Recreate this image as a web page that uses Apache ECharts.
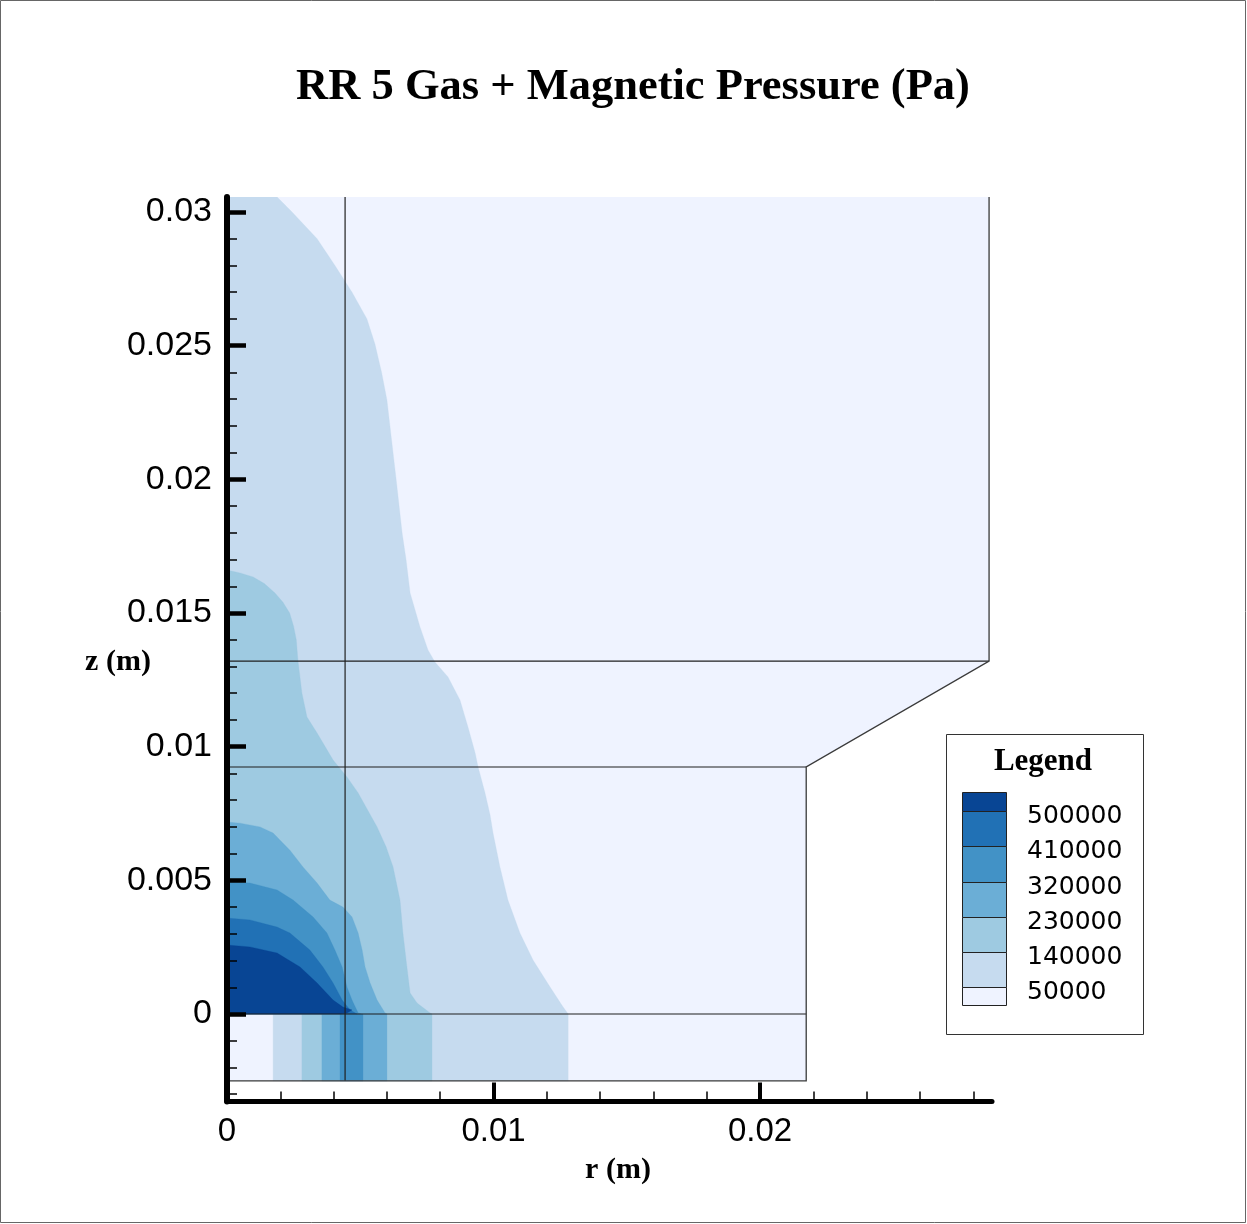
<!DOCTYPE html>
<html><head><meta charset="utf-8">
<script src="https://cdn.jsdelivr.net/npm/echarts@6/dist/echarts.min.js"></script>
<style>html,body{margin:0;padding:0;background:#fff}#c{width:1247px;height:1224px}</style>
</head><body><div id="c"></div>
<script>
// ---------- data ----------
const contourLevels = [50000, 140000, 230000, 320000, 410000, 500000];
const legendLabels = ['500000', '410000', '320000', '230000', '140000', '50000'];
const yMajorTicks = [0, 0.005, 0.01, 0.015, 0.02, 0.025, 0.03];
const yMinorTicks = [-0.003, -0.002, -0.001, 0.001, 0.002, 0.003, 0.004, 0.006, 0.007, 0.008, 0.009,
  0.011, 0.012, 0.013, 0.014, 0.016, 0.017, 0.018, 0.019, 0.021, 0.022, 0.023, 0.024,
  0.026, 0.027, 0.028, 0.029];
const xMajorTicks = [0, 0.01, 0.02];
const xMinorTicks = [0.002, 0.004, 0.006, 0.008, 0.012, 0.014, 0.016, 0.018, 0.022, 0.024, 0.026, 0.028];

// domain outline (r, z)
const domain = [[0, -0.0025], [0.02173, -0.0025], [0.02173, 0.00924], [0.02859, 0.0132], [0.02859, 0.0310], [0, 0.0310]];
const domainEdge = [[0, -0.0025], [0.02173, -0.0025], [0.02173, 0.00924], [0.02859, 0.0132], [0.02859, 0.0310]];
// mesh block lines
const blockLines = [
  [[0.00443, -0.0025], [0.00443, 0.0310]],
  [[0, 0.0132], [0.02859, 0.0132]],
  [[0, 0.00924], [0.02173, 0.00924]],
  [[0, 0], [0.02173, 0]]
];

// contour boundaries above z = 0 (r, z), from the axis down to z = 0
const c50000 = [[0, 0.0310], [0.00170, 0.0310], [0.00188, 0.03056], [0.00244, 0.0300], [0.00338, 0.0290], [0.00405, 0.0280],
  [0.00469, 0.0270], [0.00525, 0.0260], [0.00555, 0.02506], [0.0058, 0.0240], [0.0060, 0.02297], [0.00623, 0.02099],
  [0.00634, 0.02005], [0.00657, 0.01799], [0.00672, 0.01698], [0.00687, 0.01575], [0.00724, 0.01448],
  [0.00754, 0.01362], [0.0078, 0.01317], [0.00829, 0.01261], [0.00874, 0.01175], [0.00904, 0.01074],
  [0.00931, 0.00976], [0.00942, 0.00924], [0.00968, 0.00827], [0.00987, 0.00744], [0.00998, 0.00677],
  [0.01024, 0.0055], [0.01054, 0.00426], [0.01099, 0.00303], [0.01148, 0.00202], [0.01212, 0.00101],
  [0.01261, 0.00026], [0.0128, 0]];
const c140000 = [[0, 0.01661], [0.00049, 0.0165], [0.00098, 0.01635], [0.0014, 0.0161], [0.0018, 0.01575],
  [0.0021, 0.0154], [0.00235, 0.0150], [0.0025, 0.0145], [0.0026, 0.0140], [0.00266, 0.01324], [0.00281, 0.01201],
  [0.003, 0.01111], [0.00338, 0.01051], [0.00398, 0.0095], [0.0045, 0.00887], [0.00492, 0.00827],
  [0.00563, 0.007], [0.00597, 0.00625], [0.00623, 0.0055], [0.00649, 0.00426], [0.0066, 0.00303],
  [0.00675, 0.00176], [0.00687, 0.00079], [0.00713, 0.00041], [0.00762, 0.00004], [0.00769, 0]];
const c230000 = [[0, 0.00718], [0.00049, 0.00714], [0.00124, 0.007], [0.00173, 0.00677], [0.00236, 0.00613],
  [0.00285, 0.0055], [0.00338, 0.0049], [0.00386, 0.00426], [0.00435, 0.004], [0.00469, 0.00363],
  [0.00492, 0.00303], [0.00507, 0.00239], [0.00518, 0.00176], [0.00537, 0.00116], [0.00563, 0.00052],
  [0.00593, 0.00004], [0.006, 0]];
const c320000 = [[0, 0.00494], [0.00086, 0.0049], [0.00188, 0.00464], [0.00248, 0.00426], [0.00323, 0.00363],
  [0.00375, 0.00303], [0.00405, 0.00239], [0.00432, 0.00176], [0.0045, 0.00101], [0.00469, 0.00052],
  [0.00492, 0.00004], [0.00503, 0]];
const c410000 = [[0, 0.00359], [0.00086, 0.00352], [0.00188, 0.00325], [0.00236, 0.00303], [0.00311, 0.00239],
  [0.0036, 0.00176], [0.00398, 0.00116], [0.00432, 0.00052], [0.00462, 0.00015], [0.00488, 0]];
const c500000 = [[0, 0.00258], [0.00086, 0.00251], [0.00188, 0.00228], [0.00274, 0.00176], [0.00338, 0.00116],
  [0.00398, 0.00052], [0.00435, 0.00026], [0.00469, 0.00015], [0.0045, 0.00004], [0.00424, 0]];
// bands below z = 0 (r intervals where value >= level)
const lowBand50000 = [0.00173, 0.0128];
const lowBand140000 = [0.00281, 0.00769];
const lowBand230000 = [0.00356, 0.0060];
const lowBand320000 = [0.00424, 0.0051];
const lowZ = [-0.0025, 0];

// ---------- styles ----------
const palette = ['#eff3ff', '#c6dbef', '#9ecae1', '#6baed6', '#4292c6', '#2171b5', '#084594'];
const upperCurves = [c50000, c140000, c230000, c320000, c410000, c500000];
const lowerBands = [lowBand50000, lowBand140000, lowBand230000, lowBand320000, null, null];

function polySeries(polys, fill, z) {
  return {
    type: 'custom', coordinateSystem: 'cartesian2d', clip: true, silent: true, z: z,
    xAxisIndex: 0, yAxisIndex: 0,
    data: polys.map((_, i) => [i, 0]),
    renderItem: function (params, api) {
      const pts = polys[params.dataIndex].map(p => api.coord(p));
      return { type: 'polygon', shape: { points: pts }, style: { fill: fill, stroke: fill, lineWidth: 0.3 } };
    }
  };
}
function lineSeries(lines, color, width, z) {
  return {
    type: 'custom', coordinateSystem: 'cartesian2d', clip: false, silent: true, z: z,
    xAxisIndex: 0, yAxisIndex: 0,
    data: lines.map((_, i) => [i, 0]),
    renderItem: function (params, api) {
      const yTop = api.coord([0, 0.030562])[1];
      const pts = lines[params.dataIndex].map(p => {
        const c = api.coord(p);
        return [c[0], Math.max(c[1], yTop)];
      });
      return { type: 'polyline', shape: { points: pts }, style: { stroke: color, lineWidth: width, fill: null } };
    }
  };
}

const series = [];
series.push(polySeries([domain], palette[0], 2));
upperCurves.forEach((curve, k) => {
  const polys = [[[0, 0]].concat(curve)];
  const lb = lowerBands[k];
  if (lb) polys.push([[lb[0], lowZ[0]], [lb[1], lowZ[0]], [lb[1], lowZ[1]], [lb[0], lowZ[1]]]);
  series.push(polySeries(polys, palette[k + 1], 3 + k));
});
series.push(lineSeries(blockLines, '#1f1f1f', 1.2, 20));
series.push(lineSeries([domainEdge], '#3a3a3a', 1.3, 20));

// legend graphic
const LX = 962, LW = 44;
const rowEdges = [792, 811, 846, 882, 917, 952, 987, 1005];
const legendGraphic = [];
legendGraphic.push({ type: 'rect', shape: { x: 946.5, y: 734.5, width: 197, height: 300 }, style: { fill: '#fff', stroke: '#333', lineWidth: 1 } });
legendGraphic.push({ type: 'text', style: { x: 1043, y: 762, text: 'Legend', font: 'bold 31px "Liberation Serif"', fill: '#000', align: 'center', verticalAlign: 'middle' } });
for (let i = 0; i < 7; i++) {
  legendGraphic.push({ type: 'rect', shape: { x: LX + 0.5, y: rowEdges[i] + 0.5, width: LW, height: rowEdges[i + 1] - rowEdges[i] },
    style: { fill: palette[6 - i], stroke: '#222', lineWidth: 1 } });
}
legendLabels.forEach((t, i) => {
  legendGraphic.push({ type: 'text', style: { x: 1027, y: rowEdges[i + 1] + 5, text: t, font: '25px "DejaVu Sans"', fill: '#000', align: 'left', verticalAlign: 'middle' } });
});

const chart = echarts.init(document.getElementById('c'), null, { renderer: 'canvas' });
const fmt = v => String(+(+v).toFixed(4));
chart.setOption({
  animation: false,
  backgroundColor: '#fff',
  grid: { left: 227, top: 197, width: 765, height: 904.5, containLabel: false },
  xAxis: [
    { type: 'value', min: 0, max: 0.0287, position: 'bottom', z: 30,
      axisLine: { show: true, onZero: false, lineStyle: { color: '#000', width: 5 } },
      axisTick: { show: true, inside: true, length: 19, lineStyle: { color: '#000', width: 4 }, customValues: xMajorTicks },
      axisLabel: { show: true, margin: 14, customValues: xMajorTicks, formatter: fmt, color: '#000', fontSize: 33, fontFamily: 'Liberation Sans' },
      splitLine: { show: false } },
    { type: 'value', min: 0, max: 0.0287, position: 'bottom', z: 30,
      axisLine: { show: false, onZero: false },
      axisTick: { show: true, inside: true, length: 10, lineStyle: { color: '#000', width: 1.5 }, customValues: xMinorTicks },
      axisLabel: { show: false }, splitLine: { show: false } }
  ],
  yAxis: [
    { type: 'value', min: -0.003273, max: 0.030562, position: 'left', z: 30,
      axisLine: { show: true, onZero: false, lineStyle: { color: '#000', width: 6 } },
      axisTick: { show: true, inside: true, length: 19, lineStyle: { color: '#000', width: 4.5 }, customValues: yMajorTicks },
      axisLabel: { show: true, margin: 15, customValues: yMajorTicks, formatter: fmt, color: '#000', fontSize: 34, fontFamily: 'Liberation Sans' },
      splitLine: { show: false } },
    { type: 'value', min: -0.003273, max: 0.030562, position: 'left', z: 30,
      axisLine: { show: false, onZero: false },
      axisTick: { show: true, inside: true, length: 10, lineStyle: { color: '#000', width: 1.5 }, customValues: yMinorTicks },
      axisLabel: { show: false }, splitLine: { show: false } }
  ],
  series: series,
  graphic: [
    { type: 'rect', silent: true, shape: { x: 0.5, y: 0.5, width: 1245, height: 1222 }, style: { fill: null, stroke: '#666', lineWidth: 1 }, z: 100 },
    { type: 'text', silent: true, style: { x: 633, y: 87, text: 'RR 5 Gas + Magnetic Pressure (Pa)', font: 'bold 44.5px "Liberation Serif"', fill: '#000', align: 'center', verticalAlign: 'middle' } },
    { type: 'text', silent: true, style: { x: 118, y: 662, text: 'z (m)', font: 'bold 30px "Liberation Serif"', fill: '#000', align: 'center', verticalAlign: 'middle' } },
    { type: 'text', silent: true, style: { x: 618, y: 1170, text: 'r (m)', font: 'bold 30px "Liberation Serif"', fill: '#000', align: 'center', verticalAlign: 'middle' } },
    { type: 'group', silent: true, children: legendGraphic }
  ]
});
</script>
</body></html>
